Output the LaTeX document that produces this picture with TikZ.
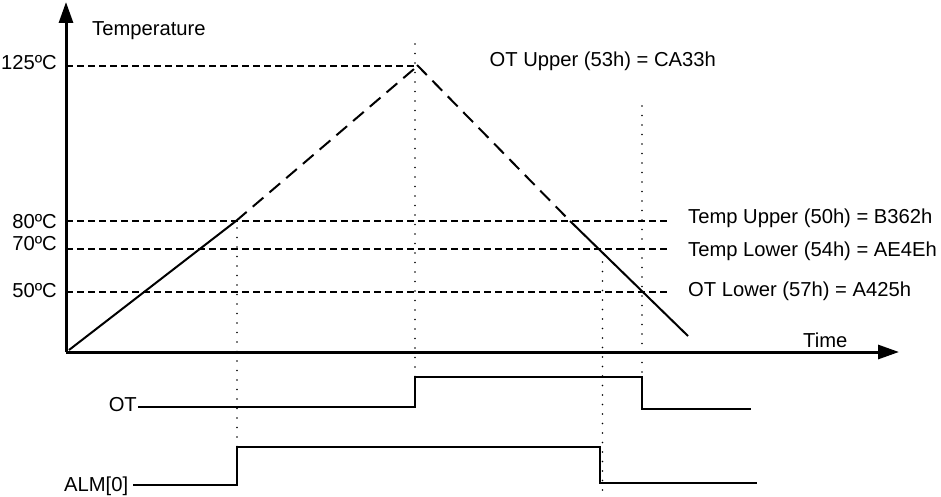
\documentclass[tikz,border=0pt]{standalone}
\usepackage{fontspec}
\setmainfont{Liberation Sans}
\usetikzlibrary{arrows.meta}
\begin{document}
\begin{tikzpicture}[x=1pt,y=-1pt,
  axis/.style={line width=3pt,-{Triangle[length=21pt,width=14pt]}},
  lvl/.style={line width=2pt,dash pattern=on 7pt off 4pt},
  ramp/.style={line width=2pt},
  rampdash/.style={line width=2pt,dash pattern=on 14pt off 8pt},
  guide/.style={line width=1.7pt,line cap=round,dash pattern=on 0pt off 9.5pt},
  sig/.style={line width=2pt},
  lbl/.style={inner sep=0pt,font=\fontsize{20.2}{24}\selectfont}]
\useasboundingbox (0,0) rectangle (941,497);
% axes
\coordinate (O) at (66,352);
\coordinate (Ytop) at (66,2);
\coordinate (Xend) at (899,352);
\draw[axis] (O) -- (Ytop);
\draw[axis] (O) -- (Xend);
% level lines
\coordinate (l125a) at (66,66);   \coordinate (l125b) at (415,66);
\coordinate (l80a) at (66,221);   \coordinate (l80b) at (667,221);
\coordinate (l70a) at (66,249);   \coordinate (l70b) at (667,249);
\coordinate (l50a) at (66,292);   \coordinate (l50b) at (667,292);
\draw[lvl] (l125a) -- (l125b);
\draw[lvl] (l80a) -- (l80b);
\draw[lvl] (l70a) -- (l70b);
\draw[lvl] (l50a) -- (l50b);
% temperature ramp
\coordinate (r0) at (69,350);
\coordinate (r1) at (236,221);
\coordinate (r2) at (414,69);
\coordinate (r3) at (417,65);
\coordinate (r4) at (570,221);
\coordinate (r5) at (688,336);
\draw[ramp] (r0) -- (r1);
\draw[rampdash] (r1) -- (r2);
\draw[rampdash] (r3) -- (r4);
\draw[ramp] (r4) -- (r5);
% guides
\coordinate (g1a) at (237,228);   \coordinate (g1b) at (237,490);
\coordinate (g2a) at (415,44);    \coordinate (g2b) at (415,377);
\coordinate (g3a) at (642,106);   \coordinate (g3b) at (642,377);
\coordinate (g4a) at (602.5,262); \coordinate (g4b) at (602.5,490);
\draw[guide] (g1a) -- (g1b);
\draw[guide] (g2a) -- (g2b);
\draw[guide] (g3a) -- (g3b);
\draw[guide] (g4a) -- (g4b);
% OT signal
\coordinate (ot0) at (138,407);
\coordinate (ot1) at (415,407);
\coordinate (ot2) at (415,377);
\coordinate (ot3) at (642,377);
\coordinate (ot4) at (642,409);
\coordinate (ot5) at (751,409);
\draw[sig] (ot0) -- (ot1) -- (ot2) -- (ot3) -- (ot4) -- (ot5);
% ALM signal
\coordinate (al0) at (133,485);
\coordinate (al1) at (237,485);
\coordinate (al2) at (237,447);
\coordinate (al3) at (599.5,447);
\coordinate (al4) at (599.5,483);
\coordinate (al5) at (757,483);
\draw[sig] (al0) -- (al1) -- (al2) -- (al3) -- (al4) -- (al5);
% labels
\node[lbl,anchor=base east] (t125) at (57,70) {125ºC};
\node[lbl,anchor=base east] (t80) at (57,228) {80ºC};
\node[lbl,anchor=base east] (t70) at (57,250) {70ºC};
\node[lbl,anchor=base east] (t50) at (57,297) {50ºC};
\node[lbl,anchor=base west] (temp) at (92,36) {Temperature};
\node[lbl,anchor=base west] (time) at (803,347.5) {Time};
\node[lbl,anchor=base west] (otu) at (489.5,67) {OT Upper (53h) = CA33h};
\node[lbl,anchor=base west] (tu) at (688,223) {Temp Upper (50h) = B362h};
\node[lbl,anchor=base west] (tl) at (688,256) {Temp Lower (54h) = AE4Eh};
\node[lbl,anchor=base west] (otl) at (688,296) {OT Lower (57h) = A425h};
\node[lbl,anchor=base east] (otlab) at (137,411.5) {OT};
\node[lbl,anchor=base west] (almlab) at (64,491) {ALM[0]};
\end{tikzpicture}
\end{document}
